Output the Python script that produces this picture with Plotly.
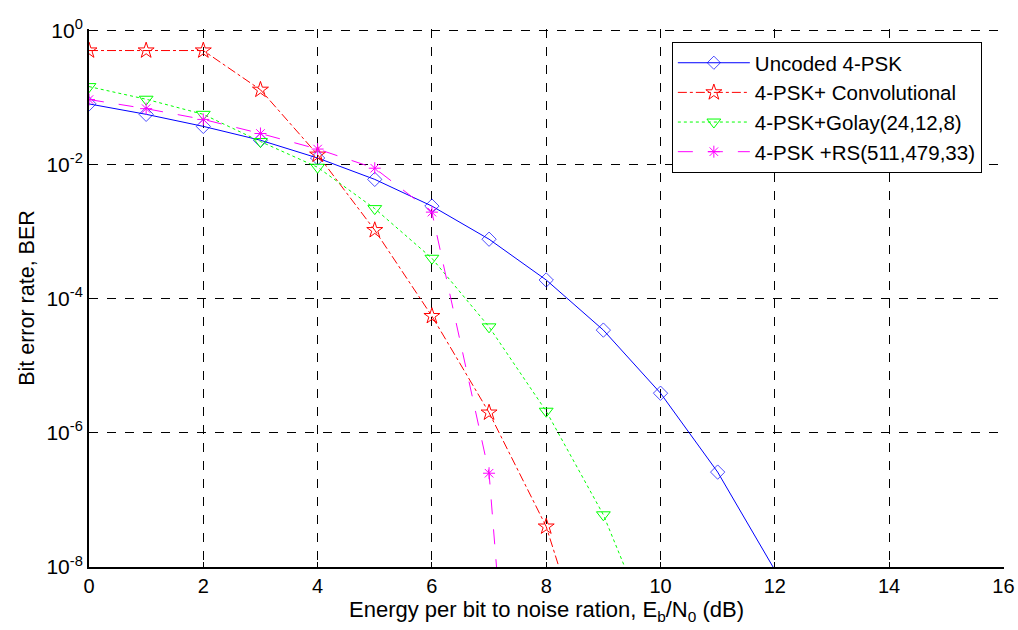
import plotly.graph_objects as go

# ---- data ----
snr_uncoded = [0, 1, 2, 3, 4, 5, 6, 7, 8, 9, 10, 11, 12]
ber_uncoded = [0.08, 0.056, 0.037, 0.023, 0.0125, 0.006, 0.0024, 7.7e-4, 1.9e-4, 3.4e-5, 3.9e-6, 2.6e-7, 9e-9]

snr_conv = [0, 1, 2, 3, 4, 5, 6, 7, 8, 9]
ber_conv = [0.5, 0.5, 0.5, 0.13, 0.014, 1.05e-3, 5.5e-5, 2e-6, 4e-8, 8e-11]

snr_golay = [0, 1, 2, 3, 4, 5, 6, 7, 8, 9, 10]
ber_golay = [0.145, 0.094, 0.056, 0.022, 0.0091, 2.2e-3, 4e-4, 3.8e-5, 2.1e-6, 6e-8, 5e-10]

snr_rs = [0, 1, 2, 3, 4, 5, 6, 7, 8]
ber_rs = [0.093, 0.068, 0.047, 0.029, 0.017, 8.8e-3, 1.95e-3, 2.5e-7, 5e-18]

names = ["Uncoded 4-PSK", "4-PSK+ Convolutional", "4-PSK+Golay(24,12,8)", "4-PSK +RS(511,479,33)"]

x_ticks = [0, 2, 4, 6, 8, 10, 12, 14, 16]
y_tick_vals = [1, 1e-2, 1e-4, 1e-6, 1e-8]
y_tick_text = ["10<sup>0</sup>", "10<sup>-2</sup>", "10<sup>-4</sup>", "10<sup>-6</sup>", "10<sup>-8</sup>"]

FONT = "Arial, Liberation Sans, sans-serif"

# markers only on the plotted grid points inside the axes (last uncoded point lies on the edge)
unc_sizes = [11] * (len(snr_uncoded) - 1) + [0]

fig = go.Figure()
fig.add_trace(go.Scatter(x=snr_uncoded, y=ber_uncoded, name=names[0], mode="lines+markers",
                         line=dict(color="#0000FF", width=1, dash="solid"),
                         marker=dict(symbol="diamond-open", size=unc_sizes, color="#0000FF", line=dict(width=1))))
fig.add_trace(go.Scatter(x=snr_conv, y=ber_conv, name=names[1], mode="lines+markers",
                         line=dict(color="#FF0000", width=1, dash="dashdot"),
                         marker=dict(symbol="star-open", size=12, color="#FF0000", line=dict(width=1))))
fig.add_trace(go.Scatter(x=snr_golay, y=ber_golay, name=names[2], mode="lines+markers",
                         line=dict(color="#00FF00", width=1, dash="dot"),
                         marker=dict(symbol="triangle-down-open", size=12, color="#00FF00", line=dict(width=1))))
fig.add_trace(go.Scatter(x=snr_rs, y=ber_rs, name=names[3], mode="lines+markers",
                         line=dict(color="#FF00FF", width=1, dash="longdash"),
                         marker=dict(symbol="asterisk-open", size=10, color="#FF00FF", line=dict(width=1, color="#FF00FF"))))

fig.update_layout(
    width=1018, height=630,
    margin=dict(l=89, r=14, t=29, b=63),
    paper_bgcolor="white", plot_bgcolor="white",
    font=dict(family=FONT, size=20, color="black"),
    legend=dict(x=0.637, y=0.976, xanchor="left", yanchor="top",
                bgcolor="white", bordercolor="black", borderwidth=1,
                itemwidth=72,
                font=dict(family=FONT, size=20.5), tracegroupgap=0),
    showlegend=True,
)
fig.update_xaxes(
    range=[0, 16.01], tickvals=x_ticks, ticktext=[str(v) for v in x_ticks],
    showgrid=True, gridcolor="black", griddash="dash", gridwidth=1,
    showline=True, linecolor="black", linewidth=2,
    ticks="inside", ticklen=5, tickcolor="black", zeroline=False,
    tickfont=dict(family=FONT, size=20), automargin=False,
    title=dict(text="Energy per bit to noise ration, E<sub>b</sub>/N<sub>0</sub> (dB)",
               font=dict(family=FONT, size=22), standoff=4),
)
fig.update_yaxes(
    type="log", range=[-8, 0.02], tickvals=y_tick_vals, ticktext=y_tick_text,
    showgrid=True, gridcolor="black", griddash="dash", gridwidth=1,
    showline=True, linecolor="black", linewidth=2,
    ticks="inside", ticklen=5, tickcolor="black", zeroline=False,
    tickfont=dict(family=FONT, size=21), automargin=False,
    title=dict(text="Bit error rate, BER", font=dict(family=FONT, size=21.5), standoff=6),
)

fig.write_html("out.html", config={"displayModeBar": False},
               post_script="document.body.style.margin='0';")
